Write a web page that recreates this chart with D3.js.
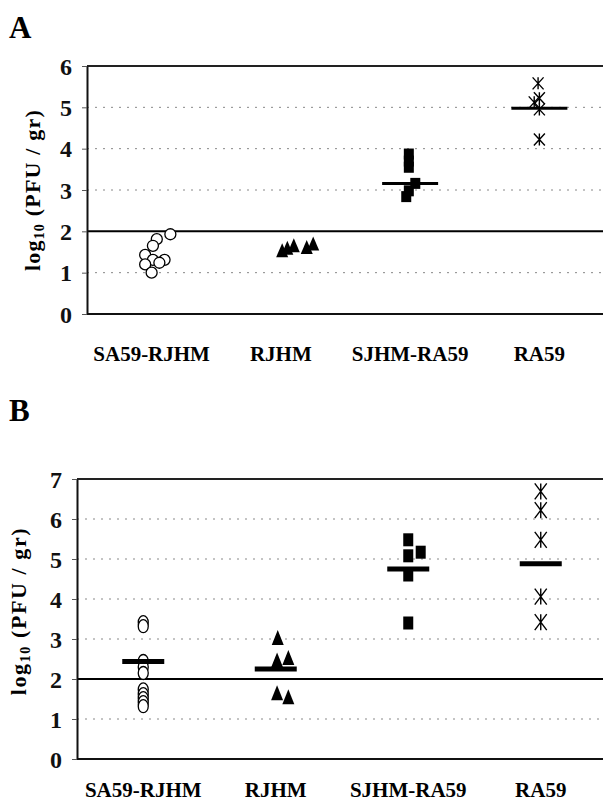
<!DOCTYPE html>
<html>
<head>
<meta charset="utf-8">
<script src="https://cdn.jsdelivr.net/npm/d3@7"></script>
<style>
  body { margin: 0; background: #fff; }
  svg { display: block; font-family: "Liberation Serif", "Times New Roman", serif; font-weight: bold; }
</style>
</head>
<body>
<script>
// categories on the x axis (placed at 1..4 like an excel scatter)
const categories = ["SA59-RJHM", "RJHM", "SJHM-RA59", "RA59"];
const categoryPos = [1, 2, 3, 4];
const detectionLimit = 2;

// ---- panel A values (log10 PFU / gr) ----
const aTicks = [0, 1, 2, 3, 4, 5, 6];
const aCircleX = [1.145, 1.04, 1.01, 0.95, 1.01, 1.10, 0.95, 1.06, 1.0];
const aCircleY = [1.93, 1.81, 1.65, 1.43, 1.31, 1.31, 1.20, 1.24, 1.0];
const aTriangleX = [2.01, 2.05, 2.10, 2.20, 2.25];
const aTriangleY = [1.51, 1.57, 1.63, 1.59, 1.67];
const aSquareX = [2.99, 2.99, 2.99, 3.04, 2.99, 2.97];
const aSquareY = [3.87, 3.70, 3.55, 3.16, 2.98, 2.84];
const aStarX = [3.99, 4.0, 3.96, 4.0, 4.0];
const aStarY = [5.58, 5.22, 5.12, 4.95, 4.22];
const aMeans = [null, null, 3.16, 4.98];

// ---- panel B values ----
const bTicks = [0, 1, 2, 3, 4, 5, 6, 7];
const bCircleX = [1, 1, 1, 1, 1, 1, 1, 1, 1, 1];
const bCircleY = [3.42, 3.32, 2.45, 2.3, 2.15, 1.74, 1.62, 1.52, 1.42, 1.32];
const bTriangleX = [2.015, 2.01, 2.095, 2.01, 2.095];
const bTriangleY = [3.0, 2.44, 2.5, 1.62, 1.52];
const bSquareX = [3.0, 3.0, 3.094, 3.0, 3.0];
const bSquareY = [5.48, 5.08, 5.17, 4.6, 3.4];
const bStarX = [4, 4, 4, 4, 4];
const bStarY = [6.69, 6.22, 5.48, 4.06, 3.42];
const bMeans = [2.44, 2.25, 4.75, 4.88];

const zip = (xs, ys) => xs.map((x, i) => ({ x: x, y: ys[i] }));

const svg = d3.select("body").append("svg").attr("width", 603).attr("height", 804);

function drawPanel(cfg) {
  const x = d3.scaleLinear().domain([0.5, 4.5]).range([cfg.left, cfg.right]);
  const y = d3.scaleLinear().domain([0, cfg.ticks[cfg.ticks.length - 1]]).range([cfg.bottom, cfg.top]);
  const g = svg.append("g");

  // panel letter
  g.append("text").attr("x", 9).attr("y", cfg.letterY)
    .attr("font-size", 31).text(cfg.letter);

  // dotted grid
  g.append("g").selectAll("line")
    .data(cfg.ticks.filter((t) => t > 0 && t < cfg.ticks[cfg.ticks.length - 1] && t !== detectionLimit))
    .join("line")
    .attr("x1", cfg.left).attr("x2", 603)
    .attr("y1", (d) => y(d)).attr("y2", (d) => y(d))
    .attr("stroke", "#888").attr("stroke-width", 1).attr("stroke-dasharray", "2,6");

  // detection limit line
  g.append("line").attr("x1", cfg.left).attr("x2", 603)
    .attr("y1", y(detectionLimit)).attr("y2", y(detectionLimit))
    .attr("stroke", "#000").attr("stroke-width", 2);

  // top border + bottom axis
  g.append("line").attr("x1", cfg.left).attr("x2", 603)
    .attr("y1", cfg.top).attr("y2", cfg.top).attr("stroke", "#222").attr("stroke-width", 2);
  g.append("line").attr("x1", cfg.left).attr("x2", 603)
    .attr("y1", cfg.bottom).attr("y2", cfg.bottom).attr("stroke", "#111").attr("stroke-width", 2);

  // y axis
  const yAxis = g.append("g").attr("transform", `translate(${cfg.left},0)`)
    .call(d3.axisLeft(y).tickValues(cfg.ticks).tickFormat(d3.format("d")).tickSize(5).tickPadding(10).tickSizeOuter(0));
  yAxis.select(".domain").attr("stroke", "#111").attr("stroke-width", 2);
  yAxis.selectAll(".tick line").attr("stroke", "#555");
  yAxis.selectAll("text").attr("font-size", 24).attr("font-family", "Liberation Serif, serif")
    .attr("font-weight", "bold").attr("fill", "#111").attr("dy", "0.34em");

  // y title
  const title = g.append("text")
    .attr("transform", `translate(${cfg.titleX},${(cfg.top + cfg.bottom) / 2 + cfg.titleShift}) rotate(-90)`)
    .attr("text-anchor", "middle").attr("font-size", 22)
    .attr("letter-spacing", cfg.titleSpacing);
  title.append("tspan").text("log");
  title.append("tspan").attr("font-size", 14).attr("dy", 4).text("10");
  title.append("tspan").attr("dy", -4).text(cfg.titleGap + "(PFU / gr)");

  // x labels
  g.append("g").selectAll("text").data(categories).join("text")
    .attr("x", (d, i) => x(categoryPos[i]))
    .attr("y", cfg.labelY)
    .attr("text-anchor", "middle").attr("font-size", 21).text((d) => d);

  const marks = g.append("g");

  // open circles
  marks.selectAll(".circ").data(zip(cfg.circleX, cfg.circleY)).join("ellipse")
    .attr("class", "circ")
    .attr("cx", (d) => x(d.x)).attr("cy", (d) => y(d.y))
    .attr("rx", cfg.circleR[0]).attr("ry", cfg.circleR[1])
    .attr("fill", "#fff").attr("stroke", "#000").attr("stroke-width", 1.3);

  // filled triangles
  const tw = cfg.triSize[0], th = cfg.triSize[1];
  marks.selectAll(".tri").data(zip(cfg.triX, cfg.triY)).join("path")
    .attr("class", "tri")
    .attr("d", (d) => {
      const cx = x(d.x), cy = y(d.y);
      return `M${cx},${cy - th * 0.6}L${cx + tw / 2},${cy + th * 0.4}L${cx - tw / 2},${cy + th * 0.4}Z`;
    })
    .attr("fill", "#000");

  // filled squares
  const sw = cfg.sqSize[0], sh = cfg.sqSize[1];
  marks.selectAll(".sq").data(zip(cfg.sqX, cfg.sqY)).join("rect")
    .attr("class", "sq")
    .attr("x", (d) => x(d.x) - sw / 2).attr("y", (d) => y(d.y) - sh / 2)
    .attr("width", sw).attr("height", sh).attr("fill", "#000");

  // stars (x with vertical bar)
  const stw = cfg.starSize[0], sth = cfg.starSize[1];
  marks.selectAll(".star").data(zip(cfg.starX, cfg.starY)).join("path")
    .attr("class", "star")
    .attr("d", (d) => {
      const cx = x(d.x), cy = y(d.y);
      return `M${cx - stw / 2},${cy - sth / 2}L${cx + stw / 2},${cy + sth / 2}` +
        `M${cx + stw / 2},${cy - sth / 2}L${cx - stw / 2},${cy + sth / 2}` +
        `M${cx},${cy - sth / 2}L${cx},${cy + sth / 2}`;
    })
    .attr("fill", "none").attr("stroke", "#000").attr("stroke-width", 1.4);

  // group means
  marks.selectAll(".mean").data(cfg.means.map((m, i) => ({ m: m, i: i })).filter((d) => d.m !== null))
    .join("line")
    .attr("class", "mean")
    .attr("x1", (d) => x(categoryPos[d.i]) - cfg.meanHalf)
    .attr("x2", (d) => x(categoryPos[d.i]) + cfg.meanHalf)
    .attr("y1", (d) => y(d.m)).attr("y2", (d) => y(d.m))
    .attr("stroke", "#000").attr("stroke-width", cfg.meanWidth);
}

drawPanel({
  letter: "A", letterY: 38,
  left: 87, right: 604, top: 66, bottom: 314, ticks: aTicks,
  titleX: 40, titleShift: 0, titleSpacing: 1.2, titleGap: " ",
  labelY: 361,
  circleX: aCircleX, circleY: aCircleY, circleR: [5.5, 5.5],
  triX: aTriangleX, triY: aTriangleY, triSize: [12, 14],
  sqX: aSquareX, sqY: aSquareY, sqSize: [10, 11],
  starX: aStarX, starY: aStarY, starSize: [11, 12],
  means: aMeans, meanHalf: 28, meanWidth: 3,
});

drawPanel({
  letter: "B", letterY: 421,
  left: 77, right: 607, top: 479, bottom: 759, ticks: bTicks,
  titleX: 26, titleShift: -8, titleSpacing: 1.6, titleGap: "  ",
  labelY: 797,
  circleX: bCircleX, circleY: bCircleY, circleR: [5, 6.5],
  triX: bTriangleX, triY: bTriangleY, triSize: [12, 15],
  sqX: bSquareX, sqY: bSquareY, sqSize: [10, 13],
  starX: bStarX, starY: bStarY, starSize: [12, 16],
  means: bMeans, meanHalf: 21, meanWidth: 5,
});
</script>
</body>
</html>
